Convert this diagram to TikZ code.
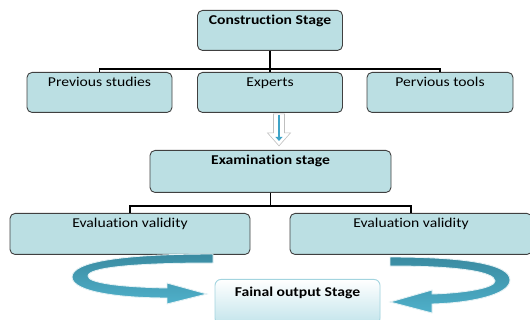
\documentclass[tikz,border=0pt]{standalone}
\usepackage{fontspec}
\setmainfont{Carlito}[FakeStretch=1.16, Ligatures=NoCommon]
\usetikzlibrary{arrows.meta,calc}
\definecolor{boxfill}{HTML}{BBDFE3}
\definecolor{boxline}{HTML}{404040}
\definecolor{ribdark}{HTML}{3A8BA1}
\definecolor{riblight}{HTML}{4FB0CA}
\definecolor{ribedge}{HTML}{E4F1F4}
\definecolor{finline}{HTML}{A3D4DF}
\definecolor{finfill}{HTML}{C2E4EB}
\definecolor{arrblue}{HTML}{3FA3C7}
\begin{document}
\begin{tikzpicture}[x=1pt,y=-1pt,
  box/.style={draw=boxline, line width=0.9pt, fill=boxfill, rounded corners=5pt,
    inner xsep=0pt, inner ysep=0pt, text height=14pt, text depth=26pt, anchor=north,
    font=\fontsize{13.5}{15}\selectfont},
  conn/.style={line width=1.8pt, black},
  rib/.style={top color=ribdark, bottom color=riblight, draw=ribedge, line width=0.9pt}]
\useasboundingbox (0,0) rectangle (530,320);

\node[box, minimum width=145pt, font=\fontsize{13.5}{15}\selectfont\bfseries] (cs) at (270,10) {Construction Stage};
\node[box, minimum width=145pt] (ps) at (99.5,72) {Previous studies};
\node[box, minimum width=145pt] (ex) at (270,72) {Experts};
\node[box, minimum width=146pt] (pt) at (440,72) {Pervious tools};
\node[box, minimum width=241pt, text depth=28pt, font=\fontsize{13.5}{15}\selectfont\bfseries] (es) at (270.5,150) {Examination stage};
\node[box, minimum width=240pt, text depth=27pt] (ev1) at (130,213) {Evaluation validity};
\node[box, minimum width=242pt, text depth=27pt] (ev2) at (411,213) {Evaluation validity};
\node[box, draw=finline, top color=white, bottom color=finfill, rounded corners=6pt,
  minimum width=165pt, text height=17pt, text depth=28pt,
  font=\fontsize{13.5}{15}\selectfont\bfseries] (fo) at (297.5,279) {Fainal output Stage};

\draw[conn] (cs.south) -- ++(0,18) -| (ps.north);
\draw[conn] (cs.south) -- ++(0,18) -| (pt.north);
\draw[conn] (cs.south) -- (ex.north);
\draw[conn] (es.south) -- ++(0,13) -| (ev1.north);
\draw[conn] (es.south) -- ++(0,13) -| (ev2.north);

% hollow down arrow
\coordinate (ha) at ([xshift=9pt]ex.south);
\draw[draw=gray!50, fill=white, line width=0.6pt]
  ($(ha)+(-5.5,1)$) -- ($(ha)+(5.5,1)$) -- ($(ha)+(5.5,20)$) -- ($(ha)+(11.5,20)$)
  -- ($(ha)+(0,33)$) -- ($(ha)+(-11.5,20)$) -- ($(ha)+(-5.5,20)$) -- cycle;
\draw[arrblue, line width=2.6pt, -{Triangle[length=4pt,width=7pt]}]
  ($(ha)+(0,2)$) -- ($(ha)+(0,28)$);

% left ribbon arrow
\shade[rib] (213,254) .. controls (120,254) and (72,262) .. (72,277)
  .. controls (72,292) and (120,298) .. (167,298) -- (167,304) -- (207,294) -- (167,283)
  -- (167,288) .. controls (120,287) and (88,283) .. (88,276)
  .. controls (88,268) and (130,263) .. (213,263) -- cycle;

% right ribbon arrow
\shade[rib] (390,257) .. controls (470,257) and (510,265) .. (510,280)
  .. controls (510,295) and (470,303) .. (432,304) -- (432,313) -- (390,302) -- (432,290)
  -- (432,294) .. controls (465,293) and (495,288) .. (495,281)
  .. controls (495,272) and (460,266) .. (390,266) -- cycle;
\end{tikzpicture}
\end{document}
